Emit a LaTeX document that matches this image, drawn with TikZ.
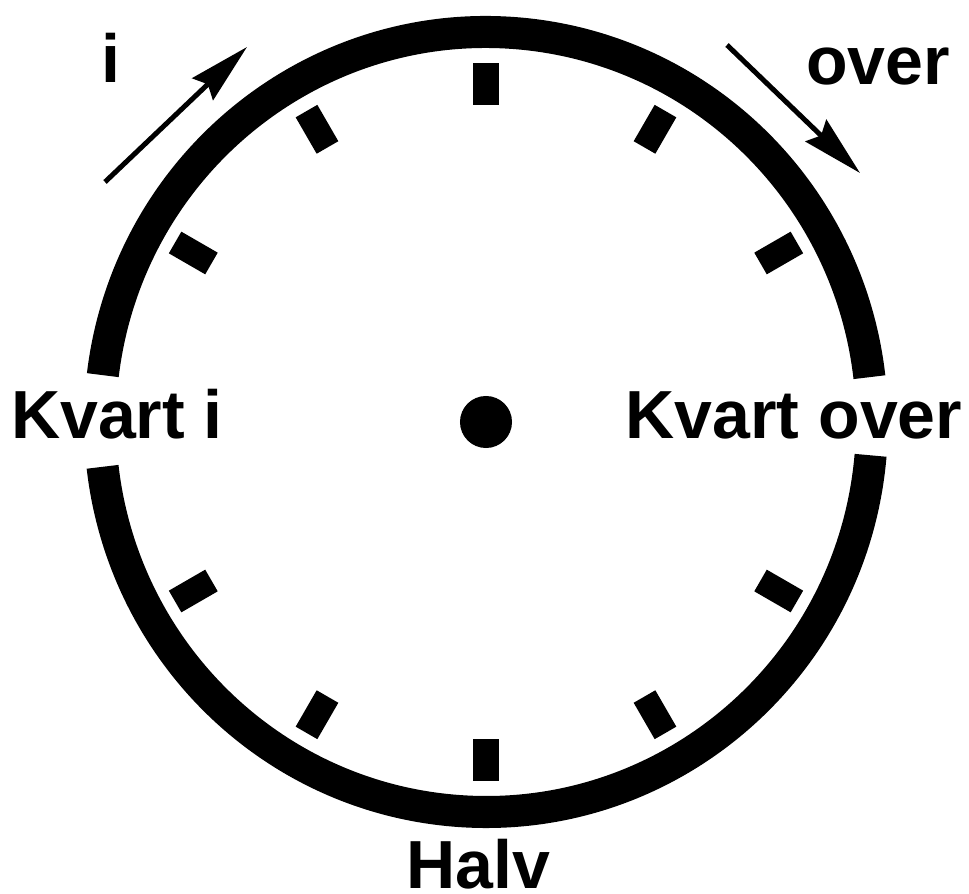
\documentclass[tikz,border=0pt]{standalone}
\usepackage{fontspec}
\setmainfont{Liberation Sans}
\usetikzlibrary{arrows.meta,positioning,calc}
\definecolor{clockink}{RGB}{0,0,0}
\tikzset{
  rim/.style={line width=0.32cm, clockink},
  hourmark/.style={line width=0.25cm, clockink},
  lbl/.style={font=\fontsize{19.35}{23}\selectfont\bfseries, text=clockink, inner sep=0pt, anchor=base},
  dirarr/.style={-{Stealth[length=0.61cm, width=0.30cm, inset=0.07cm]}, line width=0.05cm, clockink},
}

\begin{document}
\begin{tikzpicture}[x=0.01cm, y=-0.01cm]
  \useasboundingbox (0,0) rectangle (969,894);
  \coordinate (ctr) at (486,422);
  % rim, open at quarter past / quarter to
  \draw[rim] ([shift={(186.9:386 and 390)}]ctr) arc[start angle=186.9, end angle=353.4, x radius=386, y radius=390];
  \draw[rim] ([shift={(4.9:386 and 390)}]ctr) arc[start angle=4.9, end angle=173.4, x radius=386, y radius=390];
  % hour marks
  \foreach \a in {30,60,90,120,150,210,240,270,300,330}
    \draw[hourmark] ([shift={(\a:317)}]ctr) -- ([shift={(\a:359)}]ctr);
  \node[circle, fill=clockink, minimum size=0.52cm, inner sep=0pt] (hub) at (ctr) {};
  % labels
  \node[lbl] (lblI) at (111,83) {i};
  \node[lbl] (lblOver) at (878,85) {over};
  \node[lbl] (lblKvartI) at (117,439) {Kvart i};
  \node[lbl] (lblKvartOver) at (794,439) {Kvart over};
  \node[lbl] (lblHalv) at (478,888) {Halv};
  % direction arrows
  \coordinate (iTail) at (105,182);
  \coordinate (iTip) at (247,47);
  \coordinate (overTail) at (727,45);
  \coordinate (overTip) at (860,173);
  \draw[dirarr] (iTail) -- (iTip);
  \draw[dirarr] (overTail) -- (overTip);
\end{tikzpicture}
\end{document}
